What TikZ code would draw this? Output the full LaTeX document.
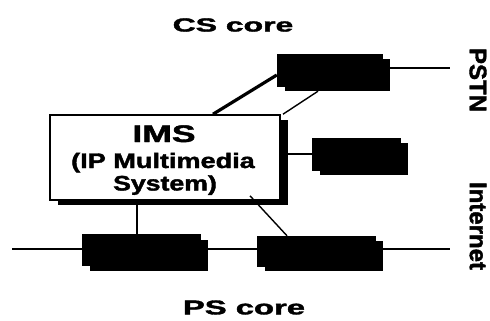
\documentclass[tikz,border=0pt]{standalone}
\usepackage{fontspec}
\setmainfont{Liberation Sans}[BoldFeatures={FakeBold=1.6}]
\usetikzlibrary{shadows}
\tikzset{
  gw/.style={fill=black, draw=black, inner sep=0pt,
    drop shadow={shadow xshift=8pt, shadow yshift=-5pt, fill=black, opacity=1}},
  imsbox/.style={fill=white, draw=black, line width=1.6pt, inner sep=0pt,
    minimum width=230pt, minimum height=85pt,
    drop shadow={shadow xshift=8pt, shadow yshift=-5pt, fill=black, opacity=1}},
  lbl/.style={inner sep=0pt, font=\bfseries},
  conn/.style={draw=black, line width=1.5pt},
}
\begin{document}
\begin{tikzpicture}[x=1pt,y=-1pt]
\useasboundingbox[fill=white] (0,0) rectangle (490,321);
% boxes
\node[imsbox] (ims) at (165,157.5) {};
\node[gw, minimum width=105pt, minimum height=32pt] (gwt) at (329.5,70) {};
\node[gw, minimum width=88pt, minimum height=32pt] (gwm) at (356,154) {};
\node[gw, minimum width=118pt, minimum height=31pt] (gwa) at (141,250) {};
\node[gw, minimum width=118pt, minimum height=30pt] (gwb) at (316,251) {};
% texts
\node[lbl] (cs) at (233,25) {\fontsize{19}{20}\selectfont\scalebox{1.68}[1]{CS core}};
\node[lbl] (ps) at (244,307.5) {\fontsize{20}{22}\selectfont\scalebox{1.64}[1]{PS core}};
\node[lbl, anchor=base] (imsa) at (164,142) {\fontsize{24}{24}\selectfont\scalebox{1.48}[1]{IMS}};
\node[lbl, anchor=base] (imsb) at (163,168) {\fontsize{21}{21}\selectfont\scalebox{1.29}[1]{(IP Multimedia}};
\node[lbl, anchor=base] (imsc) at (165,190.5) {\fontsize{21}{21}\selectfont\scalebox{1.27}[1]{System)}};
\node[lbl, rotate=-90] (pstn) at (478,80) {\fontsize{24}{24}\selectfont PSTN};
\node[lbl, rotate=-90] (inet) at (478,226) {\fontsize{24}{24}\selectfont Internet};
% free ends
\coordinate (pstnend) at (450,68);
\coordinate (pleft) at (12,249);
\coordinate (pright) at (450,249);
% connectors
\draw[conn] (gwt.east |- pstnend) -- (pstnend);
\draw[conn, line width=3.2pt] ([xshift=48pt]ims.north) -- ([yshift=-5pt]gwt.west);
\draw[conn, line width=1.4pt] ([xshift=118pt]ims.north) -- ([xshift=-11.5pt, yshift=-5pt]gwt.south);
\draw[conn] (gwm.west) -- (gwm.west -| ims.east);
\draw[conn, line width=2.2pt] (pleft) -- (gwa.west |- pleft);
\draw[conn, line width=2.2pt] ([xshift=8pt]gwa.east |- pleft) -- (gwb.west |- pleft);
\draw[conn, line width=2.2pt] ([xshift=8pt]gwb.east |- pright) -- (pright);
\draw[conn] ([xshift=-4pt]gwa.north) -- ([xshift=-4pt]gwa.north |- ims.south);
\draw[conn, line width=1.4pt] ([xshift=85pt, yshift=5pt]ims.south) -- ([xshift=-29pt]gwb.north);
\end{tikzpicture}
\end{document}
